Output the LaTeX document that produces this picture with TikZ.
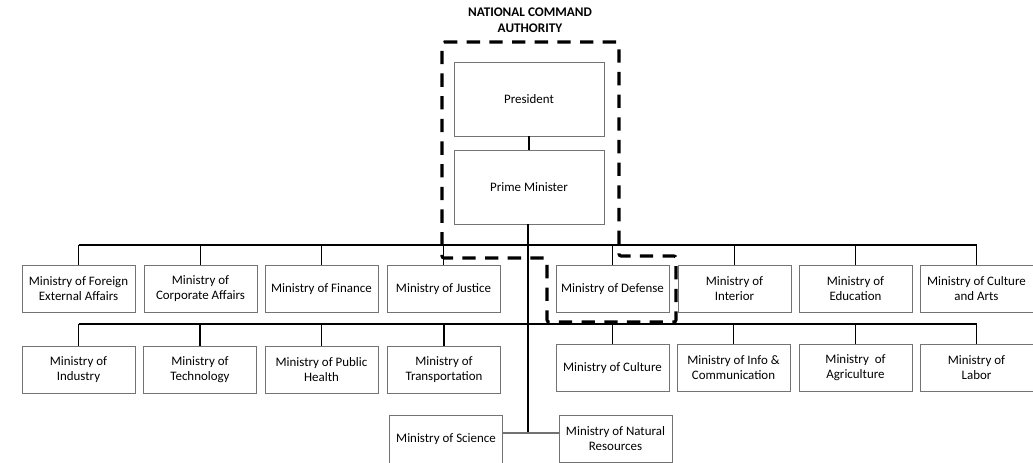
\documentclass[tikz,border=0pt]{standalone}
\usepackage{fontspec}
\setmainfont{Carlito}
\begin{document}
\begin{tikzpicture}[x=0.75pt,y=-0.75pt,
  mbox/.style={draw=black!55, line width=0.6pt, minimum width=84.75pt, minimum height=35.5pt, inner sep=1pt, align=center, font=\fontsize{9.7}{11.25}\selectfont},
  topbox/.style={mbox, minimum width=112.5pt, minimum height=55.5pt},
  conn/.style={black, line width=1.1pt},
  nca/.style={black, line width=2.3pt, dash pattern=on 10pt off 7pt, rounded corners=1.5pt}]
\useasboundingbox (0,0) rectangle (1033,463);
\clip (0,0) rectangle (1033,463);

\node[font=\bfseries\fontsize{9.9}{11.8}\selectfont, align=center] (title) at (530,20) {NATIONAL COMMAND\\AUTHORITY};

\node[topbox] (pres) at (529,99) {President};
\node[topbox] (pm) at (529,187) {Prime Minister};

% row 1
\node[mbox] (a1) at (78.5,289) {Ministry of Foreign\\External Affairs};
\node[mbox] (a2) at (200.5,289) {Ministry of\\Corporate Affairs};
\node[mbox] (a3) at (321.5,289) {Ministry of Finance};
\node[mbox] (a4) at (443.5,289) {Ministry of Justice};
\node[mbox] (a5) at (612.5,289) {Ministry of Defense};
\node[mbox] (a6) at (734.5,289) {Ministry of\\Interior};
\node[mbox] (a7) at (855.5,289) {Ministry of\\Education};
\node[mbox] (a8) at (976.5,289) {Ministry of Culture\\and Arts};

% row 2
\node[mbox] (b1) at (78.5,370) {Ministry of\\Industry};
\node[mbox] (b2) at (200,370) {Ministry of\\Technology};
\node[mbox] (b3) at (321.5,370) {Ministry of Public\\Health};
\node[mbox] (b4) at (444,370) {Ministry of\\Transportation};
\node[mbox] (b5) at (612.5,368) {Ministry of Culture};
\node[mbox] (b6) at (733.5,368) {Ministry of Info \&\\Communication};
\node[mbox] (b7) at (855.5,368) {Ministry~ of\\Agriculture};
\node[mbox] (b8) at (976.5,368) {Ministry of\\Labor};

% row 3
\node[mbox] (c1) at (446,439.5) {Ministry of Science};
\node[mbox] (c2) at (615.5,439) {Ministry of Natural\\Resources};

\coordinate (bus1) at (0,245);
\coordinate (bus2) at (0,324);
\coordinate (jn) at (528,433);

% connectors
\draw[conn] (pres.south) -- (pm.north);
\draw[conn] (pm.south -| jn) -- (jn);
\draw[conn] (a1.north |- bus1) -- (a8.north |- bus1);
\foreach \n in {a1,a2,a3,a4,a5,a6,a7,a8} \draw[conn] (\n.north |- bus1) -- (\n.north);
\draw[conn] (b1.north |- bus2) -- (b8.north |- bus2);
\foreach \n in {b1,b2,b3,b4,b5,b6,b7,b8} \draw[conn] (\n.north |- bus2) -- (\n.north);
\draw[black!55, line width=0.8pt] (c1.east |- jn) -- (c2.west |- jn);

% national command authority outline
\coordinate (n1) at (442,42);
\coordinate (n2) at (619,42);
\coordinate (n3) at (619,256);
\coordinate (n4) at (676,256);
\coordinate (n5) at (676,322);
\coordinate (n6) at (547,322);
\coordinate (n7) at (547,258);
\coordinate (n8) at (442,258);
\draw[nca] (n1) -- (n2) -- (n3) -- (n4) -- (n5) -- (n6) -- (n7) -- (n8) -- cycle;
\end{tikzpicture}
\end{document}
